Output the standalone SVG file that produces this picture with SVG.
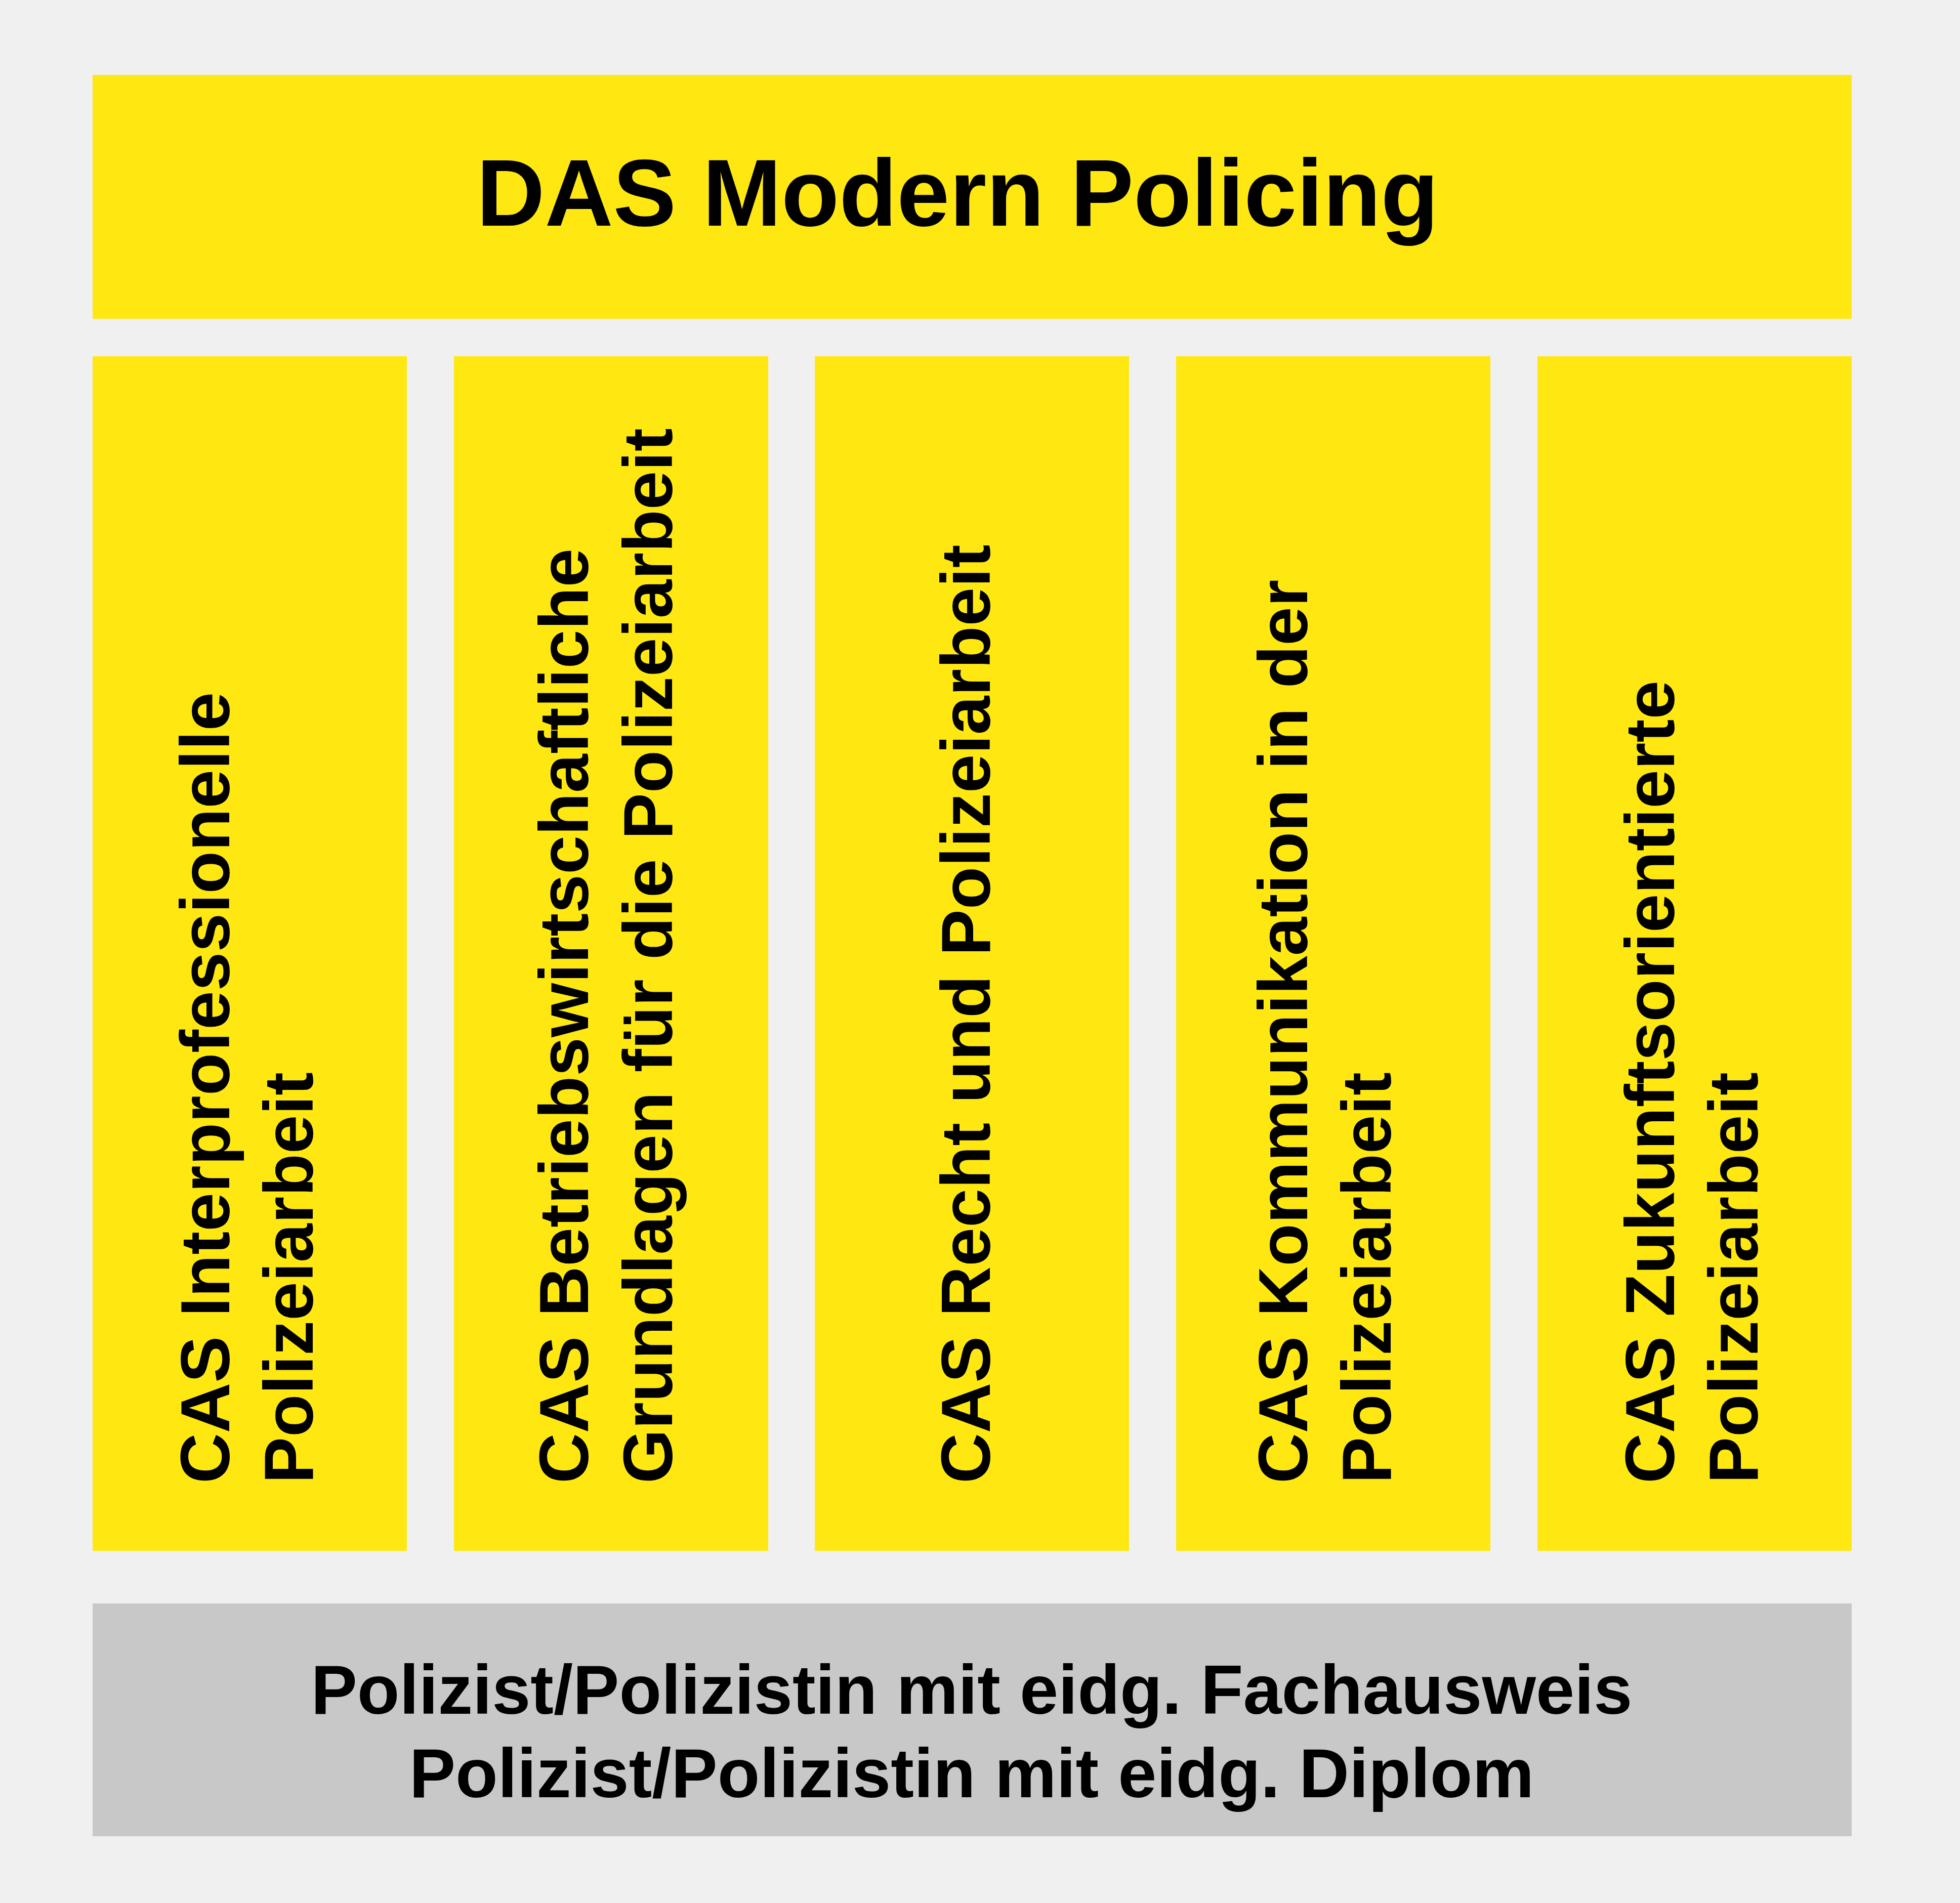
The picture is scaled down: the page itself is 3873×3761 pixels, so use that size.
<svg xmlns="http://www.w3.org/2000/svg" width="3873" height="3761" viewBox="0 0 3873 3761">
<style>
.bg{fill:#F0F0F0}
.y{fill:#FFE811}
.g{fill:#C8C8C8}
text{font-family:"Liberation Sans",Arial,sans-serif;font-weight:bold;fill:#000}
.t{font-size:187px}
.c{font-size:138px}
.b{font-size:137px}
</style>
<rect class="bg" x="0" y="0" width="3873" height="3761"/>
<g id="title">
<rect class="y" x="183" y="148" width="3476" height="482"/>
<text class="t" x="1892" y="446" text-anchor="middle">DAS Modern Policing</text>
</g>
<g id="cas1">
<rect class="y" x="183" y="704" width="621" height="2361"/>
<g transform="translate(453,2932) rotate(-90)"><text class="c" x="0" y="0">CAS Interprofessionelle</text><text class="c" x="0" y="165">Polizeiarbeit</text></g>
</g>
<g id="cas2">
<rect class="y" x="897" y="704" width="621" height="2361"/>
<g transform="translate(1162,2932) rotate(-90)"><text class="c" x="0" y="0">CAS Betriebswirtschaftliche</text><text class="c" x="0" y="166">Grundlagen für die Polizeiarbeit</text></g>
</g>
<g id="cas3">
<rect class="y" x="1610" y="704" width="621" height="2361"/>
<g transform="translate(1956,2932) rotate(-90)"><text class="c" x="0" y="0">CAS Recht und Polizeiarbeit</text></g>
</g>
<g id="cas4">
<rect class="y" x="2324" y="704" width="621" height="2361"/>
<g transform="translate(2583,2932) rotate(-90)"><text class="c" x="0" y="0">CAS Kommunikation in der</text><text class="c" x="0" y="165">Polizeiarbeit</text></g>
</g>
<g id="cas5">
<rect class="y" x="3038" y="704" width="621" height="2361"/>
<g transform="translate(3308,2932) rotate(-90)"><text class="c" x="0" y="0">CAS Zukunftsorientierte</text><text class="c" x="0" y="165">Polizeiarbeit</text></g>
</g>
<g id="base">
<rect class="g" x="183" y="3169" width="3476" height="460"/>
<text class="b" x="1920" y="3387" text-anchor="middle">Polizist/Polizistin mit eidg. Fachausweis</text>
<text class="b" x="1920" y="3552" text-anchor="middle">Polizist/Polizistin mit eidg. Diplom</text>
</g>
<g id="connectors"/>
</svg>
